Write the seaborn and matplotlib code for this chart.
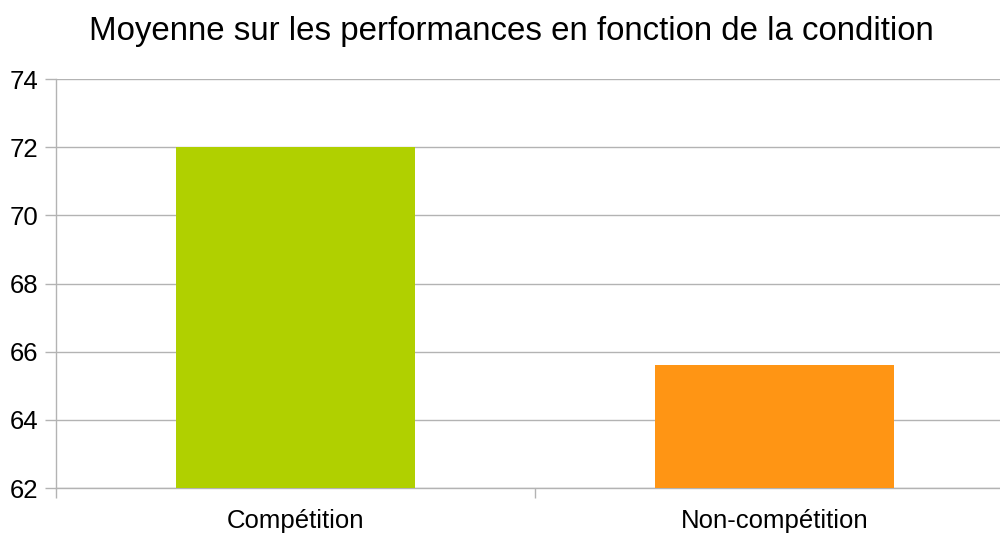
import matplotlib
matplotlib.use("Agg")
import matplotlib.pyplot as plt
import seaborn as sns
import pandas as pd

conditions = ["Compétition", "Non-compétition"]
moyennes = [72.0, 65.6]
couleurs = ["#b0d000", "#ff9514"]
y_ticks = [62, 64, 66, 68, 70, 72, 74]

sns.set_theme(style="white")
plt.rcParams["font.family"] = ["Liberation Sans", "DejaVu Sans"]

df = pd.DataFrame({"condition": conditions, "moyenne": moyennes})

fig = plt.figure(figsize=(10, 5.34), dpi=100)
ax = fig.add_axes([0.056, 0.0861, 0.958, 0.7659])

sns.barplot(data=df, x="condition", y="moyenne", hue="condition",
            palette=couleurs, width=0.5, ax=ax, legend=False,
            saturation=1, linewidth=0, zorder=3)

ax.set_ylim(62, 74)
ax.set_xlim(-0.5, 1.5)
ax.set_yticks(y_ticks)
ax.set_yticklabels([str(t) for t in y_ticks])
ax.set_xticks([-0.5, 0.5, 1.5], minor=False)
ax.set_xticklabels([])
ax.set_xticks([0, 1], minor=True)
ax.set_xticklabels(conditions, minor=True)
ax.set_xlabel("")
ax.set_ylabel("")

grid_c = "#b3b3b3"
ax.grid(axis="y", color=grid_c, linewidth=1, zorder=0)
ax.set_axisbelow(True)
for side in ["top", "right"]:
    ax.spines[side].set_visible(False)
for side in ["left", "bottom"]:
    ax.spines[side].set_color(grid_c)
    ax.spines[side].set_linewidth(1)

ax.tick_params(axis="y", which="major", length=8, width=1, color=grid_c,
               labelsize=18.5, labelcolor="black", pad=5, left=True)
ax.tick_params(axis="x", which="major", length=7, width=1, color=grid_c,
               bottom=True)
ax.tick_params(axis="x", which="minor", length=0, labelsize=18.5,
               labelcolor="black", pad=15)

fig.text(0.5115, 1 - 40 / 534, "Moyenne sur les performances en fonction de la condition",
         ha="center", va="baseline", fontsize=23.8, color="black")

fig.savefig("out.png", dpi=100, facecolor="white")
